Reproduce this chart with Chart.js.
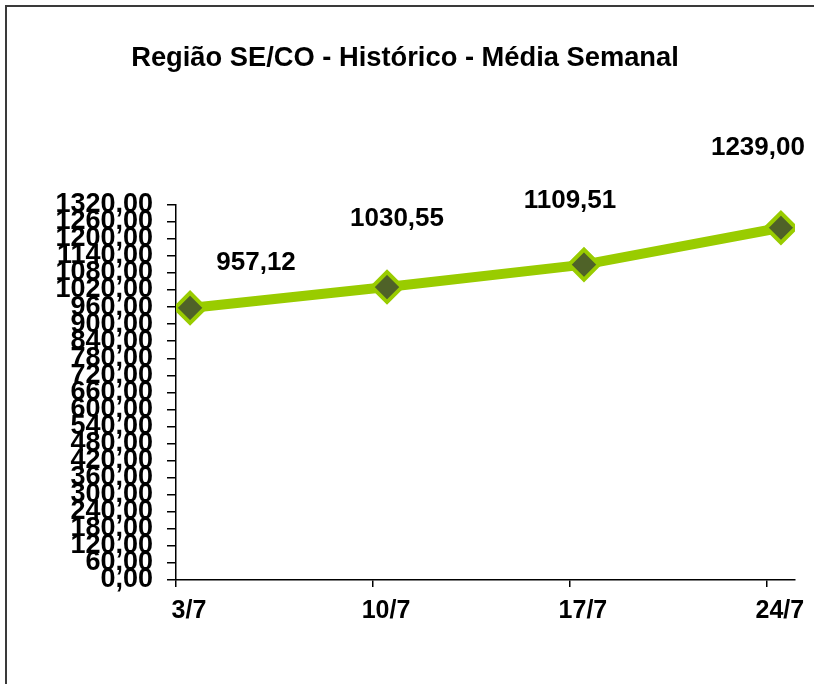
<!DOCTYPE html>
<html>
<head>
<meta charset="utf-8">
<title>Região SE/CO - Histórico - Média Semanal</title>
<script src="https://cdn.jsdelivr.net/npm/chart.js@4.4.1/dist/chart.umd.min.js"></script>
<style>
  html, body { margin: 0; padding: 0; background: #fff; }
  #wrap { position: relative; width: 814px; height: 684px; overflow: hidden; }
  #frame {
    position: absolute; left: 5px; top: 5px; right: -10px; bottom: -10px;
    border-left: 2px solid #3a3a3a; border-top: 2px solid #3a3a3a;
  }
  canvas { position: absolute; left: 0; top: 0; }
</style>
</head>
<body>
<div id="wrap">
  <div id="frame"></div>
  <canvas id="chart" width="814" height="684"></canvas>
</div>
<script>
// week start days (July)
const weekDays = [3, 10, 17, 24];
const weekLabels = ['3/7', '10/7', '17/7', '24/7'];
const weeklyAverage = [957.12, 1030.55, 1109.51, 1239.00];

const yMax = 1320;
const yStep = 60;

const fmt = (v) => v.toFixed(2).replace('.', ',');

// value labels, drawn above each marker (Excel-style manual placement)
const valueLabels = {
  id: 'valueLabels',
  afterDatasetsDraw: function(chart, args, opts) {
    const ctx = chart.ctx;
    const meta = chart.getDatasetMeta(0);
    ctx.save();
    ctx.font = opts.font;
    ctx.fillStyle = '#000';
    ctx.textAlign = 'center';
    ctx.textBaseline = 'middle';
    meta.data.forEach((pt, i) => {
      const off = opts.offsets[i] || [0, -40];
      ctx.fillText(fmt(weeklyAverage[i]), pt.x + off[0], pt.y + off[1]);
    });
    ctx.restore();
  }
};

// points sit in the middle of their day, as on an Excel date axis
const points = weekDays.map((d, i) => ({ x: d + 0.5, y: weeklyAverage[i] }));

new Chart(document.getElementById('chart'), {
  type: 'line',
  data: {
    datasets: [{
      label: 'Média Semanal',
      data: points,
      borderColor: '#99cc00',
      borderWidth: 10,
      tension: 0,
      pointStyle: 'rectRot',
      pointRadius: 15,
      pointHoverRadius: 15,
      pointBackgroundColor: '#4f6228',
      pointBorderColor: '#99cc00',
      pointBorderWidth: 4
    }]
  },
  options: {
    responsive: false,
    animation: false,
    layout: { padding: { left: 15, right: 19, top: 0, bottom: 49 } },
    plugins: {
      legend: { display: false },
      tooltip: { enabled: false },
      title: {
        display: true,
        text: 'Região SE/CO - Histórico - Média Semanal',
        color: '#000',
        font: { family: 'Liberation Sans, Arial, sans-serif', size: 27.3, weight: 'bold' },
        padding: { top: 42, bottom: 130 }
      },
      valueLabels: {
        font: 'bold 26px "Liberation Sans", Arial, sans-serif',
        offsets: [[66, -45], [10, -68], [-14, -64], [-23, -80]]
      }
    },
    scales: {
      x: {
        type: 'linear',
        min: weekDays[0],
        max: weekDays[weekDays.length - 1] + 1,
        afterBuildTicks: function(axis) {
          axis.ticks = weekDays.map(d => ({ value: d }));
        },
        grid: { drawOnChartArea: false, drawTicks: true, tickLength: 7, color: '#000', lineWidth: 1.5 },
        border: { color: '#000', width: 1.5 },
        ticks: {
          color: '#000',
          font: { family: 'Liberation Sans, Arial, sans-serif', size: 25, weight: 'bold' },
          padding: 9,
          labelOffset: 13,
          maxRotation: 0,
          autoSkip: false,
          callback: function(value) {
            const i = weekDays.indexOf(value);
            return i >= 0 ? weekLabels[i] : '';
          }
        }
      },
      y: {
        min: 0,
        max: yMax,
        afterFit: function(axis) { axis.width = 161; },
        grid: { drawOnChartArea: false, drawTicks: true, tickLength: 9, color: '#000', lineWidth: 1.5 },
        border: { color: '#000', width: 1.5 },
        ticks: {
          stepSize: yStep,
          autoSkip: false,
          color: '#000',
          padding: 14,
          font: { family: 'Liberation Sans, Arial, sans-serif', size: 27, weight: 'bold', lineHeight: 1.0 },
          callback: function(value) { return fmt(value); }
        }
      }
    }
  },
  plugins: [valueLabels]
});
</script>
</body>
</html>
